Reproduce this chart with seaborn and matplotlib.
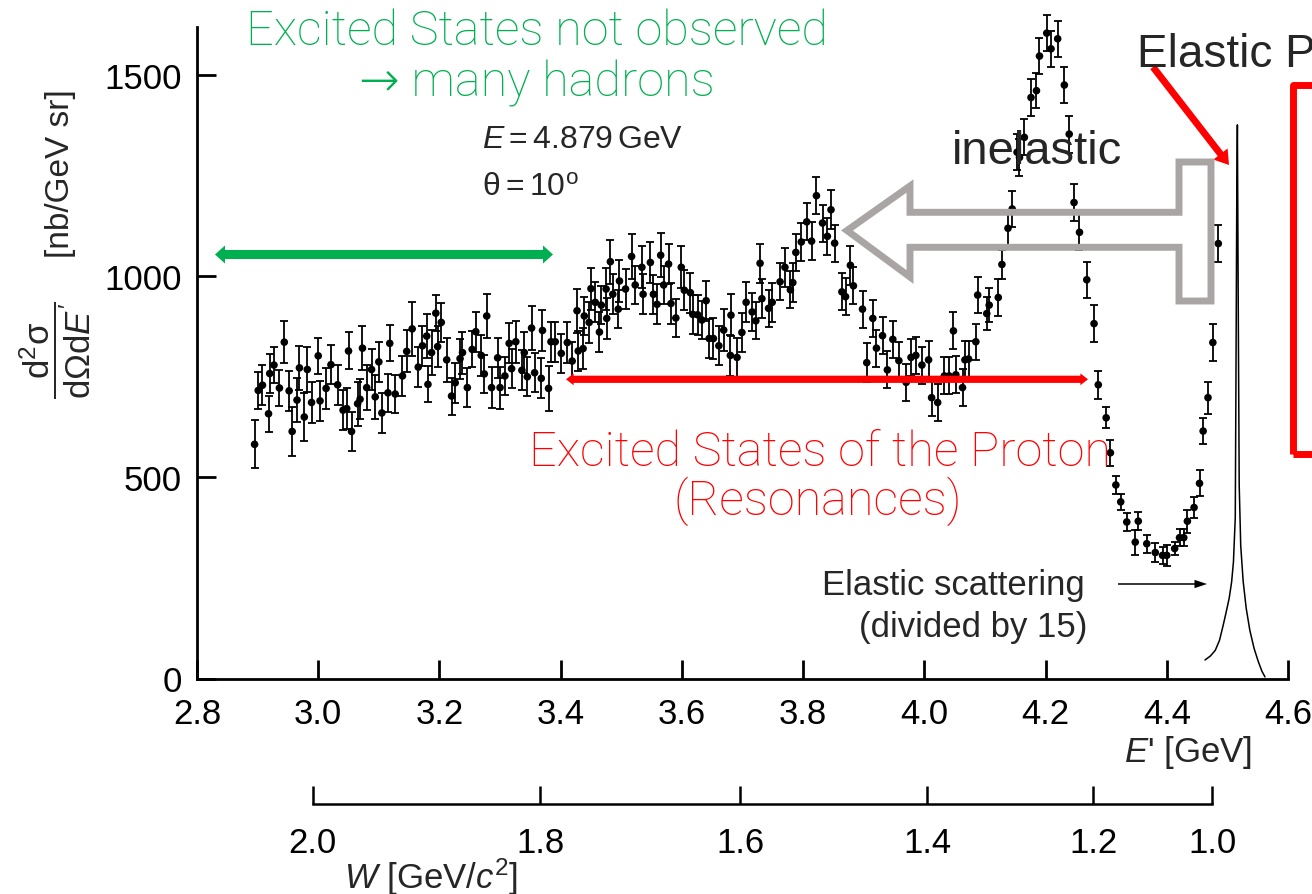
import pandas as pd
import seaborn as sns
import matplotlib.pyplot as plt
from matplotlib.patches import FancyArrowPatch, Polygon, Rectangle

# scattered electron energy E' [GeV]
e_prime = [
    2.895, 2.901, 2.908, 2.918, 2.920, 2.927, 2.936, 2.944, 2.952, 2.957,
    2.965, 2.969, 2.977, 2.982, 2.989, 3.000, 3.003, 3.013, 3.021, 3.032,
    3.041, 3.047, 3.050, 3.055, 3.065, 3.069, 3.073, 3.080, 3.088, 3.094,
    3.100, 3.105, 3.115, 3.118, 3.127, 3.139, 3.146, 3.155, 3.165, 3.172,
    3.179, 3.181, 3.187, 3.194, 3.197, 3.203, 3.212, 3.220, 3.226, 3.234,
    3.238, 3.246, 3.254, 3.260, 3.269, 3.274, 3.278,
    3.286, 3.296, 3.300, 3.308, 3.315, 3.319, 3.326, 3.336, 3.340, 3.345,
    3.352, 3.357, 3.368, 3.370, 3.380, 3.384, 3.391, 3.401, 3.411, 3.419,
    3.427, 3.429, 3.437, 3.439, 3.447, 3.450, 3.457, 3.464, 3.467, 3.475,
    3.476, 3.482, 3.486, 3.495, 3.497, 3.507, 3.517, 3.523, 3.534, 3.536,
    3.548, 3.553, 3.559, 3.565, 3.570, 3.578, 3.582, 3.590, 3.599, 3.604,
    3.614, 3.618, 3.626, 3.633, 3.640, 3.645, 3.652, 3.661, 3.669, 3.680,
    3.681, 3.691,
    3.699, 3.706, 3.716, 3.722, 3.729, 3.732, 3.743, 3.749, 3.762, 3.770,
    3.779, 3.783, 3.788, 3.797, 3.806, 3.814, 3.822, 3.832, 3.840, 3.846,
    3.852, 3.864, 3.870, 3.878, 3.883, 3.898, 3.905, 3.915, 3.921, 3.931,
    3.939, 3.948, 3.958, 3.970, 3.978, 3.986, 3.996, 4.007, 4.012, 4.022,
    4.033, 4.041, 4.048, 4.052, 4.063, 4.067, 4.073,
    4.085, 4.088, 4.103, 4.107, 4.122, 4.128, 4.138, 4.145, 4.153, 4.157,
    4.165, 4.176, 4.185, 4.190, 4.202, 4.209, 4.220, 4.231, 4.239, 4.247,
    4.256, 4.268, 4.280, 4.287,
    4.300, 4.307, 4.316, 4.324, 4.334, 4.348, 4.353, 4.367, 4.381, 4.393,
    4.400, 4.413, 4.421, 4.428, 4.434, 4.445, 4.454, 4.460, 4.468, 4.476,
    4.485,
]

# d2sigma/dOmega dE' [nb/GeV sr]
xsec = [
    582, 716, 729, 658, 758, 779, 722, 836, 715, 614,
    692, 772, 650, 768, 686, 802, 690, 721, 780, 730,
    667, 671, 814, 614, 683, 694, 821, 723, 768, 700,
    787, 660, 710, 833, 707, 752, 813, 869, 774, 827,
    851, 731, 810, 908, 825, 885, 792, 702, 735, 795,
    810, 723, 818, 862, 803, 757, 901,
    723, 797, 723, 752, 833, 770, 837, 766, 810, 750,
    871, 760, 746, 865, 721, 837, 837, 808, 835, 789,
    914, 814, 820, 901, 885, 969, 935, 861, 928, 968,
    895, 1036, 955, 918, 988, 968, 1049, 978, 1022, 955,
    1034, 955, 930, 1052, 978, 1030, 932, 896, 1022, 965,
    959, 905, 904, 891, 939, 845, 845, 827, 866, 803,
    903, 798,
    860, 935, 911, 889, 1032, 944, 920, 935, 986, 1022,
    966, 984, 1059, 1085, 1135, 1087, 1200, 1132, 1099, 1165,
    1082, 961, 949, 1027, 976, 918, 785, 895, 821, 852,
    767, 843, 790, 736, 798, 803, 779, 792, 698, 686,
    752, 752, 864, 755, 723, 792, 794,
    837, 953, 907, 928, 947, 1029, 1119, 1167, 1308, 1295,
    1345, 1444, 1461, 1547, 1604, 1565, 1590, 1475, 1353, 1183,
    1109, 991, 882, 730,
    648, 561, 481, 439, 389, 339, 391, 335, 313, 306,
    306, 323, 350, 350, 391, 425, 485, 615, 698, 835,
    1081,
]

xsec_err = [
    60, 46, 50, 45, 48, 45, 45, 53, 50, 62,
    55, 55, 60, 55, 50, 45, 50, 50, 48, 50,
    50, 50, 46, 48, 55, 50, 55, 55, 50, 55,
    50, 50, 48, 45, 48, 50, 52, 68, 50, 50,
    55, 45, 55, 45, 50, 48, 55, 46, 50, 50,
    52, 48, 45, 50, 50, 48, 55,
    50, 50, 52, 48, 50, 48, 52, 50, 50, 48,
    55, 48, 50, 52, 55, 50, 50, 48, 50, 48,
    55, 50, 50, 48, 50, 52, 50, 50, 48, 52,
    50, 55, 50, 48, 52, 50, 55, 48, 52, 50,
    50, 48, 50, 55, 48, 50, 50, 48, 52, 50,
    50, 48, 50, 48, 50, 48, 50, 48, 52, 50,
    52, 48,
    48, 50, 48, 46, 48, 48, 46, 48, 46, 48,
    46, 48, 46, 48, 46, 48, 46, 46, 46, 48,
    46, 46, 46, 48, 46, 46, 48, 46, 46, 46,
    46, 46, 46, 46, 46, 46, 46, 46, 46, 46,
    46, 46, 46, 46, 46, 46, 46,
    45, 45, 42, 42, 45, 37, 42, 45, 45, 45,
    45, 45, 44, 44, 45, 45, 45, 45, 46, 45,
    45, 45, 46, 35,
    26, 32, 22, 20, 22, 31, 23, 22, 23, 21,
    27, 16, 21, 21, 29, 27, 32, 33, 40, 46,
    47,
]

# elastic peak (divided by 15)
peak_e = [4.463, 4.472, 4.480, 4.487, 4.493, 4.498, 4.503, 4.507, 4.510,
          4.513, 4.514, 4.5155, 4.5165, 4.518, 4.5195, 4.522, 4.526,
          4.531, 4.537, 4.544, 4.551, 4.557, 4.562]
peak_xsec = [46, 56, 70, 95, 132, 165, 200, 240, 290,
             400, 700, 1200, 1376, 900, 480, 330, 242,
             175, 120, 75, 42, 18, 4]

x_ticks = [2.8, 3.0, 3.2, 3.4, 3.6, 3.8, 4.0, 4.2, 4.4, 4.6]
x_tick_labels = ['2.8', '3.0', '3.2', '3.4', '3.6', '3.8', '4.0', '4.2', '4.4', '4.6']
y_ticks = [0, 500, 1000, 1500]

# invariant mass W [GeV/c^2] and where its ticks sit on the E' scale
w_ticks = ['2.0', '1.8', '1.6', '1.4', '1.2', '1.0']
w_tick_eprime = [2.991, 3.366, 3.696, 4.005, 4.279, 4.475]

W_PX, H_PX = 1312, 895
GREEN = '#00B050'
RED = '#FF0000'
GREY = '#A9A5A5'


def fx(px):
    return px / W_PX


def fy(py):
    return 1 - py / H_PX


def fig_arrow(fig, start, end, color, style):
    arrow = FancyArrowPatch((fx(start[0]), fy(start[1])), (fx(end[0]), fy(end[1])),
                            transform=fig.transFigure, arrowstyle=style,
                            mutation_scale=1, color=color, lw=0,
                            shrinkA=0, shrinkB=0)
    fig.add_artist(arrow)


def main():
    sns.set_style("white")
    plt.rcParams['font.family'] = ['Liberation Sans', 'DejaVu Sans']
    plt.rcParams['mathtext.fontset'] = 'custom'
    plt.rcParams['mathtext.rm'] = 'Liberation Sans'
    plt.rcParams['mathtext.it'] = 'Liberation Sans:italic'
    plt.rcParams['mathtext.bf'] = 'Liberation Sans:bold'

    fig = plt.figure(figsize=(13.12, 8.95), dpi=100)
    ax = fig.add_axes([fx(197), fy(679.5), fx(1288) - fx(197), fy(27.7) - fy(679.5)])

    df = pd.DataFrame({'E': e_prime, 'xsec': xsec, 'err': xsec_err})
    ax.errorbar(df['E'], df['xsec'], yerr=df['err'], fmt='none', ecolor='black',
                elinewidth=1.3, capsize=3, capthick=1.3, clip_on=False, zorder=2)
    sns.scatterplot(data=df, x='E', y='xsec', color='black', s=30,
                    edgecolor='none', ax=ax, zorder=3, clip_on=False)
    sns.lineplot(x=peak_e, y=peak_xsec, color='black', lw=1.1, ax=ax,
                 estimator=None, sort=False)

    ax.set_xlim(2.8, 4.6)
    ax.set_ylim(0, 1620)
    ax.set_xlabel('')
    ax.set_ylabel('')
    ax.set_xticks(x_ticks)
    ax.set_xticklabels(x_tick_labels)
    ax.set_yticks(y_ticks)
    ax.spines['top'].set_visible(False)
    ax.spines['right'].set_visible(False)
    for side in ['left', 'bottom']:
        ax.spines[side].set_color('black')
        ax.spines[side].set_linewidth(2)
    ax.tick_params(axis='both', direction='in', length=14, width=2,
                   color='black', labelcolor='black', labelsize=25,
                   bottom=True, left=True)
    ax.tick_params(axis='x', pad=13)
    ax.tick_params(axis='y', pad=11)
    ax.patch.set_visible(False)

    # second scale: W
    ax_w = fig.add_axes([fx(197), fy(805), fx(1288) - fx(197), 0.0005])
    ax_w.set_xlim(2.8, 4.6)
    ax_w.set_yticks([])
    ax_w.set_xticks(w_tick_eprime)
    ax_w.set_xticklabels(w_ticks)
    for side in ['left', 'right', 'top']:
        ax_w.spines[side].set_visible(False)
    ax_w.spines['bottom'].set_bounds(w_tick_eprime[0], w_tick_eprime[-1])
    ax_w.spines['bottom'].set_color('black')
    ax_w.spines['bottom'].set_linewidth(1.8)
    ax_w.tick_params(axis='x', direction='in', length=13, width=1.8,
                     color='black', labelcolor='black', labelsize=25, pad=16,
                     bottom=True)
    ax_w.patch.set_visible(False)

    # axis titles
    fig.text(fx(55), fy(350),
             r'$\dfrac{\mathrm{d^2\sigma}}{\mathrm{d\Omega d}E^{\prime}}$',
             rotation=90, ha='center', va='center', fontsize=25)
    fig.text(fx(61), fy(174), '[nb/GeV sr]', rotation=90, ha='center',
             va='center', fontsize=24)
    fig.text(fx(1252), fy(762), r"$E$' [GeV]", ha='right', va='baseline', fontsize=25)
    fig.text(fx(344), fy(889), r'$W$ [GeV/$c^2$]', ha='left', va='baseline', fontsize=25)

    # in-plot labels
    fig.text(fx(482), fy(148), r'$E = 4.879\,\mathrm{GeV}$', ha='left',
             va='baseline', fontsize=23)
    fig.text(fx(482), fy(196), r'$\mathrm{\theta} = 10^{\mathrm{o}}$', ha='left',
             va='baseline', fontsize=23)
    fig.text(fx(1085), fy(595), 'Elastic scattering', ha='right',
             va='baseline', fontsize=25)
    fig.text(fx(1087), fy(637), '(divided by 15)', ha='right',
             va='baseline', fontsize=25)
    fig_arrow(fig, (1118, 585), (1207, 585), 'black',
              'simple,head_length=9,head_width=6,tail_width=1.1')

    # slide annotations
    light = dict(family=['Roboto', 'DejaVu Sans'], fontweight='light', fontsize=35)
    fig.text(fx(537), fy(45), 'Excited States not observed', ha='center',
             va='baseline', color=GREEN, **light)
    fig.text(fx(537), fy(97), '\u2192 many hadrons', ha='center',
             va='baseline', color=GREEN, **light)
    fig.text(fx(820), fy(466), 'Excited States of the Proton', ha='center',
             va='baseline', color=RED, **light)
    fig.text(fx(818), fy(515), '(Resonances)', ha='center',
             va='baseline', color=RED, **light)

    green_style = 'simple,head_length=7.2,head_width=13,tail_width=6.5'
    fig_arrow(fig, (384, 255.5), (215, 255.5), GREEN, green_style)
    fig_arrow(fig, (384, 255.5), (553, 255.5), GREEN, green_style)
    red_style = 'simple,head_length=5.5,head_width=8.5,tail_width=5.2'
    fig_arrow(fig, (827, 380.3), (566, 380.3), RED, red_style)
    fig_arrow(fig, (827, 380.3), (1088, 380.3), RED, red_style)

    fig.text(fx(952), fy(164), 'inelastic', ha='left', va='baseline',
             fontsize=34, zorder=5)
    fig.text(fx(1137), fy(67), 'Elastic Peak', ha='left', va='baseline',
             fontsize=33)
    fig_arrow(fig, (1153, 68), (1229, 166), RED,
              'simple,head_length=10,head_width=13,tail_width=5')

    outline = [(847, 231.5), (910, 187), (910, 213.3), (1179, 213.3),
               (1179, 163), (1211, 163), (1211, 302), (1179, 302),
               (1179, 248.3), (910, 248.3), (910, 278), (847, 231.5)]
    fig.add_artist(Polygon([(fx(x), fy(y)) for x, y in outline], closed=True,
                           fill=False, edgecolor=GREY, lw=5, joinstyle='miter',
                           transform=fig.transFigure))
    fig.add_artist(Rectangle((fx(1293), fy(455)), 0.2, fy(86) - fy(455),
                             fill=False, edgecolor=RED, lw=5, joinstyle='round',
                             transform=fig.transFigure))

    fig.savefig('out.png', dpi=100)


if __name__ == "__main__":
    main()
